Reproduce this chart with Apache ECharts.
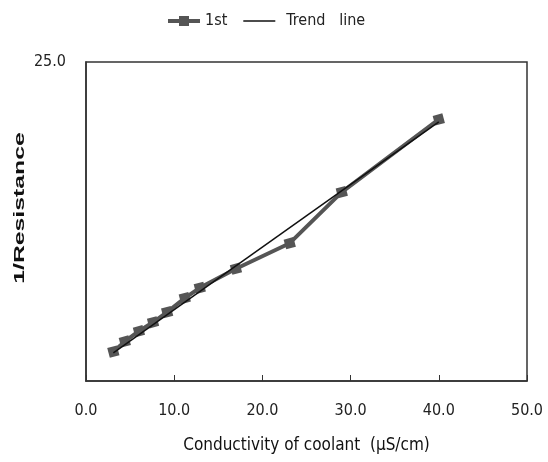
<!DOCTYPE html>
<html><head><meta charset="utf-8">
<script src="https://cdn.jsdelivr.net/npm/echarts@6/dist/echarts.min.js"></script>
<style>html,body{margin:0;padding:0;background:#fff}#c{width:548px;height:462px}</style>
</head><body><div id="c"></div>
<script>
const conductivity = [3.1, 4.4, 6.0, 7.6, 9.2, 11.2, 12.9, 17.0, 23.1, 29.0, 40.0];
const inverseResistance = [2.3, 3.1, 3.9, 4.6, 5.4, 6.5, 7.3, 8.8, 10.8, 14.8, 20.5];
const trendX = [3.1, 40.0];
const trendY = [2.2, 20.3];
const xTicks = [0, 10, 20, 30, 40, 50];
const fontFam = '"Liberation Sans Narrow","DejaVu Sans Condensed",sans-serif';

const chart = echarts.init(document.getElementById('c'));
chart.setOption({
  animation: false,
  legend: {
    top: 8, left: 163,
    itemGap: 16, itemWidth: 32, itemHeight: 10,
    textStyle: {fontFamily: fontFam, fontSize: 16, color: '#222', padding: [0, 0, 0, 0]},
    data: [
      {name: '1st', icon: 'path://M0,3 L11,3 L11,0 L21,0 L21,3 L32,3 L32,7 L21,7 L21,10 L11,10 L11,7 L0,7 Z', itemStyle: {color: '#555'}},
      {name: 'Trend   line', icon: 'path://M0,4.4 L30,4.4 L30,5.6 L0,5.6 Z', itemStyle: {color: '#111'}, textStyle: {padding: [0, 0, 0, 6]}}
    ]
  },
  graphic: [{
    type: 'text', x: 20, y: 208, rotation: Math.PI / 2, scaleX: 1.65,
    style: {text: '1/Resistance', fontFamily: 'Liberation Sans, Arial, sans-serif', fontSize: 15, fontWeight: 'bold',
      fill: '#111', align: 'center', verticalAlign: 'middle'}
  }],
  grid: {left: 86, right: 21, top: 62, bottom: 81, show: true, borderColor: '#333', borderWidth: 1.5},
  xAxis: {
    type: 'value', min: 0, max: 50, interval: 10,
    name: 'Conductivity of coolant  (μS/cm)', nameLocation: 'middle', nameGap: 56,
    nameTextStyle: {fontFamily: fontFam, fontSize: 17, color: '#111'},
    axisLine: {lineStyle: {color: '#333', width: 1.5}},
    axisTick: {inside: true, length: 6, lineStyle: {color: '#333'}},
    axisLabel: {margin: 22, fontFamily: fontFam, fontSize: 16, color: '#222',
      formatter: v => xTicks.includes(v) ? v.toFixed(1) : ''},
    splitLine: {show: false}
  },
  yAxis: {
    type: 'value', min: 0, max: 25, interval: 25,
    axisLine: {show: true, lineStyle: {color: '#333', width: 1.5}},
    axisTick: {show: false},
    axisLabel: {margin: 20, fontFamily: fontFam, fontSize: 16, color: '#222',
      formatter: v => v === 25 ? '25.0' : ''},
    splitLine: {show: false}
  },
  series: [
    {
      name: '1st', type: 'line',
      data: conductivity.map((x, i) => [x, inverseResistance[i]]),
      symbol: 'rect', symbolSize: 10, symbolRotate: 15,
      lineStyle: {color: '#555', width: 4},
      itemStyle: {color: '#555'},
      z: 2
    },
    {
      name: 'Trend   line', type: 'line',
      data: trendX.map((x, i) => [x, trendY[i]]),
      symbol: 'none',
      lineStyle: {color: '#111', width: 1.5},
      itemStyle: {color: '#111'},
      z: 3
    }
  ]
});
</script></body></html>
